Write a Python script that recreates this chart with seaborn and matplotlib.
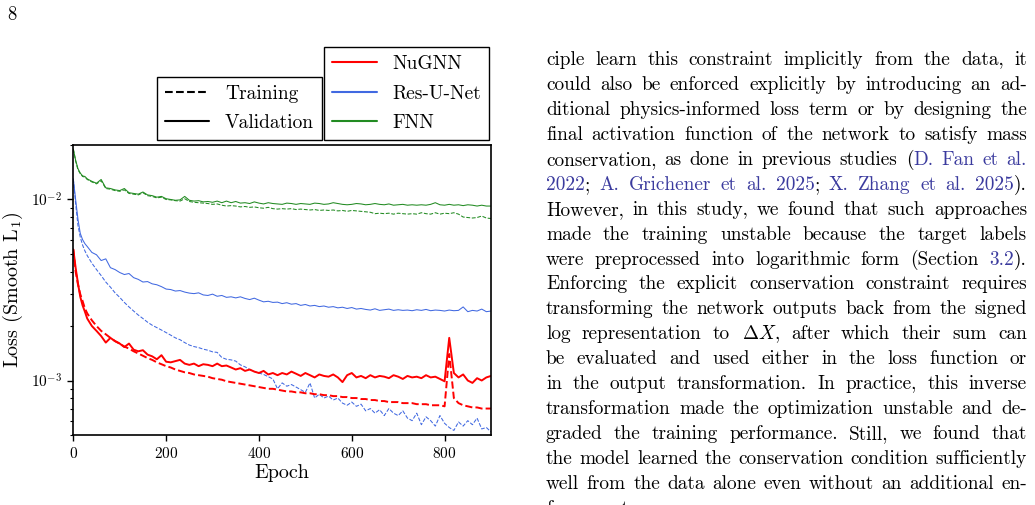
import numpy as np
import pandas as pd
import matplotlib
matplotlib.use("Agg")
import matplotlib.pyplot as plt
from matplotlib.lines import Line2D
import seaborn as sns

epochs = [0, 5, 10, 15, 20, 25, 30] + list(range(40, 901, 10))

# loss values in units of 1e-3
fnn_val = [19.0, 16.5, 14.8, 14.0, 13.5, 13.4, 13.0, 12.6, 12.3, 12.9, 11.6, 11.5, 11.3, 11.2, 11.5, 10.9, 10.8, 10.7,
           11.0, 10.6, 10.5, 10.3, 10.4, 10.1, 10.0, 9.9, 9.95, 10.4, 9.9, 9.8, 9.85, 9.7, 9.75, 9.65, 9.8, 9.6, 9.8,
           9.6, 9.75, 9.55, 9.6, 9.5, 9.7, 9.55, 9.45, 9.6, 9.5, 9.45, 9.4, 9.55, 9.5, 9.4, 9.5, 9.45, 9.4, 9.55, 9.5,
           9.4, 9.45, 9.6, 9.5, 9.4, 9.35, 9.4, 9.5, 9.45, 9.35, 9.4, 9.5, 9.4, 9.35, 9.45, 9.3, 9.35, 9.4, 9.3, 9.35,
           9.3, 9.35, 9.3, 9.4, 9.6, 9.35, 9.3, 9.4, 9.3, 9.35, 9.25, 9.35, 9.3, 9.2, 9.3, 9.2, 9.2]
fnn_train = [19.0, 16.3, 14.6, 13.9, 13.4, 13.3, 12.9, 12.5, 12.2, 12.7, 11.5, 11.4, 11.2, 11.1, 11.3, 10.8, 10.7, 10.6,
             10.9, 10.5, 10.4, 10.2, 10.3, 10.0, 9.95, 9.85, 9.8, 10.1, 9.75, 9.65, 9.6, 9.55, 9.5, 9.4, 9.45, 9.3,
             9.2, 9.25, 9.2, 9.1, 9.15, 9.05, 9.1, 9.0, 8.95, 9.05, 8.9, 8.85, 8.9, 8.85, 8.9, 8.8, 8.85, 8.8, 8.75,
             8.8, 8.7, 8.75, 8.7, 8.75, 8.65, 8.7, 8.6, 8.7, 8.65, 8.6, 8.55, 8.5, 8.35, 8.4, 8.35, 8.4, 8.3, 8.4,
             8.35, 8.3, 8.35, 8.3, 8.45, 8.35, 8.3, 8.45, 8.3, 8.4, 8.35, 8.45, 8.3, 8.0, 7.95, 7.9, 7.95, 8.1, 7.9,
             7.85]
resunet_val = [13.0, 10.0, 7.8, 6.5, 6.0, 5.7, 5.5, 5.1, 4.95, 4.6, 4.7, 4.2, 4.1, 3.95, 3.85, 3.9, 3.7, 3.62, 3.5,
               3.52, 3.42, 3.38, 3.3, 3.2, 3.18, 3.12, 3.14, 3.08, 3.04, 3.02, 3.05, 2.97, 2.95, 3.0, 2.92, 2.95, 2.88,
               2.9, 2.86, 2.9, 2.84, 2.8, 2.85, 2.78, 2.72, 2.74, 2.7, 2.71, 2.66, 2.69, 2.64, 2.66, 2.6, 2.63,
               2.58, 2.6, 2.56, 2.58, 2.54, 2.56, 2.52, 2.54, 2.5, 2.53, 2.48, 2.5, 2.47, 2.45, 2.49, 2.44, 2.46, 2.48,
               2.44, 2.46, 2.44, 2.45, 2.43, 2.46, 2.44, 2.47, 2.43, 2.45, 2.44, 2.42, 2.45, 2.43, 2.44, 2.55, 2.4,
               2.44, 2.42, 2.48, 2.4, 2.42]
resunet_train = [13.0, 9.5, 7.2, 6.2, 5.6, 5.2, 4.9, 4.45, 4.1, 3.8, 3.5, 3.28, 3.05, 2.88, 2.7, 2.55, 2.42, 2.3, 2.2,
                 2.1, 2.02, 1.96, 1.9, 1.84, 1.78, 1.72, 1.68, 1.62, 1.57, 1.54, 1.52, 1.49, 1.47, 1.44, 1.43, 1.34,
                 1.31, 1.3, 1.28, 1.22, 1.19, 1.15, 1.12, 1.1, 1.08, 1.05, 1.02, 0.9, 0.97, 0.93, 0.95, 0.92, 0.89,
                 0.86, 0.97, 0.8, 0.84, 0.8, 0.82, 0.78, 0.8, 0.75, 0.73, 0.76, 0.72, 0.74, 0.68, 0.7, 0.66, 0.69,
                 0.64, 0.7, 0.66, 0.64, 0.68, 0.62, 0.6, 0.66, 0.57, 0.63, 0.6, 0.56, 0.64, 0.58, 0.55, 0.53, 0.59,
                 0.56, 0.6, 0.57, 0.62, 0.54, 0.55, 0.52]
nugnn_val = [5.3, 4.2, 3.45, 2.9, 2.6, 2.4, 2.2, 2.0, 1.88, 1.76, 1.62, 1.72, 1.65, 1.6, 1.53, 1.6, 1.48, 1.45, 1.47,
             1.39, 1.36, 1.31, 1.38, 1.27, 1.26, 1.28, 1.3, 1.24, 1.22, 1.24, 1.2, 1.23, 1.22, 1.2, 1.24, 1.2, 1.21,
             1.18, 1.15, 1.17, 1.13, 1.15, 1.12, 1.1, 1.13, 1.08, 1.1, 1.07, 1.1, 1.08, 1.12, 1.09, 1.06, 1.1, 1.07,
             1.04, 1.08, 1.06, 1.05, 1.08, 1.04, 0.98, 1.07, 1.1, 1.04, 1.06, 1.03, 1.07, 1.04, 1.06, 1.05, 1.03, 1.07,
             1.05, 1.02, 1.06, 1.04, 1.05, 1.03, 1.07, 1.04, 1.05, 1.02, 0.99, 1.72, 1.1, 1.04, 1.08, 1.0, 0.97, 1.03,
             1.0, 1.04, 1.06]
nugnn_train = [5.3, 4.0, 3.4, 3.0, 2.75, 2.5, 2.35, 2.15, 2.0, 1.88, 1.8, 1.72, 1.65, 1.6, 1.54, 1.5, 1.45, 1.41,
               1.37, 1.33, 1.3, 1.26, 1.23, 1.2, 1.18, 1.15, 1.13, 1.11, 1.1, 1.08, 1.07, 1.06, 1.05, 1.03, 1.02,
               1.01, 0.99, 0.98, 0.97, 0.96, 0.95, 0.94, 0.93, 0.92, 0.91, 0.9, 0.9, 0.89, 0.88, 0.87, 0.87, 0.86,
               0.86, 0.85, 0.85, 0.84, 0.84, 0.83, 0.83, 0.82, 0.82, 0.81, 0.81, 0.8, 0.8, 0.79, 0.79, 0.78, 0.78,
               0.77, 0.77, 0.76, 0.76, 0.76, 0.75, 0.75, 0.75, 0.74, 0.74, 0.74, 0.73, 0.73, 0.73, 0.72, 1.4, 0.8,
               0.75, 0.73, 0.72, 0.71, 0.71, 0.7, 0.7, 0.7]

models = ["NuGNN", "Res-U-Net", "FNN"]
colors = {"NuGNN": "#ff0000", "Res-U-Net": "#4169e1", "FNN": "#228b22"}
widths = {"NuGNN": 1.4, "Res-U-Net": 0.75, "FNN": 0.75}
series = {("FNN", "Training"): fnn_train, ("FNN", "Validation"): fnn_val,
          ("Res-U-Net", "Training"): resunet_train, ("Res-U-Net", "Validation"): resunet_val,
          ("NuGNN", "Training"): nugnn_train, ("NuGNN", "Validation"): nugnn_val}

rows = []
for (m, s), vals in series.items():
    for e, v in zip(epochs, vals):
        rows.append({"epoch": e, "loss": v * 1e-3, "model": m, "split": s})
df = pd.DataFrame(rows)

# text of the page column on the right, <> marks citation links
body_lines = [
    "ciple learn this constraint implicitly from the data, it",
    "could also be enforced explicitly by introducing an ad-",
    "ditional physics-informed loss term or by designing the",
    "final activation function of the network to satisfy mass",
    "conservation, as done in previous studies (<D. Fan et al.>",
    "<2022>; <A. Grichener et al. 2025>; <X. Zhang et al. 2025>).",
    "However, in this study, we found that such approaches",
    "made the training unstable because the target labels",
    "were preprocessed into logarithmic form (Section <3.2>).",
    "Enforcing the explicit conservation constraint requires",
    "transforming the network outputs back from the signed",
    r"log representation to $\Delta{X}$, after which their sum can",
    "be evaluated and used either in the loss function or",
    "in the output transformation. In practice, this inverse",
    "transformation made the optimization unstable and de-",
    "graded the training performance. Still, we found that",
    "the model learned the conservation condition sufficiently",
    "well from the data alone even without an additional en-",
    "forcement.",
]
caption_line = "*Figure* *4.* Loss curves for NuGNN, Res-U-Net and"

sns.set_style("ticks")
plt.rcParams["font.family"] = ["cmr10", "DejaVu Serif"]
plt.rcParams["mathtext.fontset"] = "cm"
plt.rcParams["axes.formatter.use_mathtext"] = True
plt.rcParams["axes.unicode_minus"] = False
plt.rcParams["axes.edgecolor"] = "black"
plt.rcParams["text.color"] = "black"
plt.rcParams["axes.labelcolor"] = "black"
plt.rcParams["xtick.color"] = "black"
plt.rcParams["ytick.color"] = "black"

W, H = 1035, 505
fig = plt.figure(figsize=(W / 100, H / 100), dpi=100)
ax = fig.add_axes([73.3 / W, 1 - 435 / H, 417.7 / W, 290 / H])

for m in ["FNN", "Res-U-Net", "NuGNN"]:
    for s in ["Training", "Validation"]:
        sub = df[(df.model == m) & (df.split == s)]
        sns.lineplot(data=sub, x="epoch", y="loss", ax=ax, color=colors[m], lw=widths[m],
                     linestyle="--" if s == "Training" else "-", legend=False)

ax.set_yscale("log")
ax.set_xlim(0, 900)
ax.set_ylim(5e-4, 2e-2)
ax.set_xticks([0, 200, 400, 600, 800])
ax.set_xlabel("Epoch", fontsize=14.5, labelpad=2)
ax.set_ylabel(r"Loss (Smooth L$_1$)", fontsize=14.5, labelpad=4)
for sp in ax.spines.values():
    sp.set_linewidth(1.2)
ax.tick_params(which="major", direction="out", length=4.5, width=1.0, labelsize=11)
ax.tick_params(which="minor", direction="out", length=2.5, width=0.8)

leg_kw = dict(loc="lower right", borderaxespad=0, fancybox=False, edgecolor="black", framealpha=1,
              fontsize=14, handlelength=2.3, labelspacing=0.6)
split_handles = [Line2D([], [], color="black", ls="--", lw=1.5), Line2D([], [], color="black", ls="-", lw=1.5)]
leg1 = ax.legend(split_handles, ["Training", "Validation"], bbox_to_anchor=(0.595, 1.017), **leg_kw)
leg1.get_frame().set_linewidth(1.0)
ax.add_artist(leg1)
model_handles = [Line2D([], [], color=colors[m], lw=1.5) for m in models]
leg2 = ax.legend(model_handles, models, bbox_to_anchor=(0.995, 1.017), **leg_kw)
leg2.get_frame().set_linewidth(1.0)

fig.text(7 / W, 1 - 20 / H, "8", fontsize=13.5, va="baseline")

# justified text: words are lists of (text, colour, family) pieces
TEXT_C, CITE_C = "black", "#3b3b9e"
REG, BOLD = ["cmr10", "DejaVu Serif"], ["cmb10", "DejaVu Serif"]


def parse_line(s):
    words = [[]]
    col, fam = TEXT_C, REG
    buf = ""
    for ch in s:
        if ch in "<>* ":
            if buf:
                words[-1].append((buf, col, fam))
                buf = ""
            if ch == "<":
                col = CITE_C
            elif ch == ">":
                col = TEXT_C
            elif ch == "*":
                fam = REG if fam is BOLD else BOLD
            else:
                words.append([])
        else:
            buf += ch
    if buf:
        words[-1].append((buf, col, fam))
    return [w for w in words if w]


renderer = fig.canvas.get_renderer()


def make_line(line, yb, size):
    placed = []
    for w in parse_line(line):
        pieces = [fig.text(0, 1 - yb / H, txt, color=col, family=fam, fontsize=size, va="baseline")
                  for txt, col, fam in w]
        placed.append(pieces)
    return placed


def measure(placed):
    return [sum(t.get_window_extent(renderer).width for t in w) for w in placed]


def lay_out(placed, x0, x1, justify, space):
    widths_ = measure(placed)
    n = len(placed)
    gap = (x1 - x0 - sum(widths_)) / (n - 1) if justify and n > 1 else space
    x = x0
    for w in placed:
        off = 0
        for t in w:
            t.set_x((x + off) / W)
            off += t.get_window_extent(renderer).width
        x += off + gap


base = 13
x0, x1 = 546, 1027
lines_placed = [make_line(line, 65 + 24.94 * i, base) for i, line in enumerate(body_lines)]
# pick the font size so that the tightest justified line has normal word spaces
em = base * 100 / 72
ratios = []
for placed in lines_placed[:-1]:
    ws = measure(placed)
    ratios.append((x1 - x0) / (sum(ws) + (len(ws) - 1) * 0.333 * em))
size = base * min(ratios)
for i, placed in enumerate(lines_placed):
    for w in placed:
        for t in w:
            t.set_fontsize(size)
    lay_out(placed, x0, x1, i < len(lines_placed) - 1, 0.333 * size * 100 / 72)

cap = make_line(caption_line, 521, size)
lay_out(cap, 7, 487, True, 0)

fig.savefig("out.png", dpi=100)
